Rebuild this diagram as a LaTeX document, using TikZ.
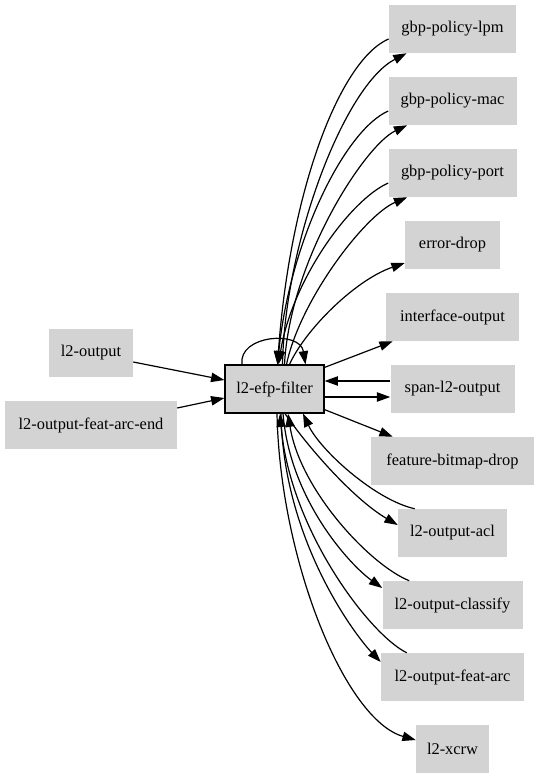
\documentclass[tikz,border=0pt]{standalone}
\usepackage{fontspec}
\setmainfont{Liberation Serif}
\usetikzlibrary{arrows.meta,calc}
\definecolor{nodegray}{HTML}{D3D3D3}
\begin{document}
\begin{tikzpicture}[x=0.75pt,y=-0.75pt,
  box/.style={fill=nodegray, draw=none, minimum height=36pt, inner sep=0pt,
    font=\fontsize{12.3}{14}\selectfont},
  mainbox/.style={box, draw=black, line width=0.9pt},
  edge/.style={-{Triangle[length=10pt,width=7pt]}, line width=0.9pt}]
\useasboundingbox (0,0) rectangle (539,779);
% nodes
\node[mainbox, minimum width=74.25pt] (efp) at (274.5,389) {l2-efp-filter};
\node[box, minimum width=63pt] (l2out) at (91,353) {l2-output};
\node[box, minimum width=129pt] (arcend) at (91,425) {l2-output-feat-arc-end};
\node[box, minimum width=95.5pt] (lpm) at (452.5,29) {gbp-policy-lpm};
\node[box, minimum width=96pt] (mac) at (452.5,101) {gbp-policy-mac};
\node[box, minimum width=96pt] (port) at (452.5,173) {gbp-policy-port};
\node[box, minimum width=71.25pt] (err) at (452.5,245) {error-drop};
\node[box, minimum width=99.75pt] (intf) at (452.5,317) {interface-output};
\node[box, minimum width=93pt] (span) at (452.5,389) {span-l2-output};
\node[box, minimum width=122.25pt] (fbd) at (452.5,461) {feature-bitmap-drop};
\node[box, minimum width=81.75pt] (acl) at (452.5,533) {l2-output-acl};
\node[box, minimum width=105pt] (cls) at (452.5,605) {l2-output-classify};
\node[box, minimum width=107.25pt] (farc) at (452.5,677) {l2-output-feat-arc};
\node[box, minimum width=54.75pt] (xcrw) at (452.5,749) {l2-xcrw};
% inputs
\draw[edge] ($(l2out.east)+(0,9)$) -- ($(efp.west)+(0,-9)$);
\draw[edge] ($(arcend.east)+(0,-17)$) -- ($(efp.west)+(0,9)$);
% self loop
\draw[edge] ($(efp.north)+(-32.5,0)$) .. controls (238,335) and (300,330) .. ($(efp.north)+(31,0)$);
% top edges
\draw[edge] ($(lpm.west)+(0,10)$) .. controls (340,60) and (290,190) .. ($(efp.north)+(3,0)$);
\draw[edge] ($(efp.north)+(8,0)$) .. controls (285,240) and (345,85) .. ($(lpm.south west)+(18,0)$);
\draw[edge] ($(mac.west)+(0,10)$) .. controls (345,130) and (290,240) .. ($(efp.north)+(3,0)$);
\draw[edge] ($(efp.north)+(10,0)$) .. controls (290,260) and (365,145) .. ($(mac.south west)+(19,0)$);
\draw[edge] ($(port.west)+(0,10)$) .. controls (350,200) and (292,280) .. ($(efp.north)+(4,0)$);
\draw[edge] ($(efp.north)+(12,0)$) .. controls (300,300) and (365,215) .. ($(port.south west)+(19,0)$);
\draw[edge] ($(efp.north)+(15,0)$) .. controls (305,330) and (355,280) .. ($(err.west)+(0,18)$);
% right side
\draw[edge] ($(efp.north east)+(0,3)$) -- ($(intf.south west)+(7,0)$);
\draw[edge] ($(span.west)+(0,-8)$) -- ($(efp.east)+(0,-8)$);
\draw[edge] ($(efp.east)+(0,8)$) -- ($(span.west)+(0,8)$);
\draw[edge] ($(efp.south east)+(0,-4)$) -- ($(fbd.north west)+(22,0)$);
% bottom edges
\draw[edge] ($(acl.north west)+(17,0)$) .. controls (375,500) and (320,450) .. ($(efp.south)+(28.5,0)$);
\draw[edge] ($(efp.south)+(10.5,0)$) .. controls (310,450) and (355,500) .. ($(acl.west)+(0,-8)$);
\draw[edge] ($(cls.north west)+(27,0)$) .. controls (370,565) and (300,490) .. ($(efp.south)+(13.5,0)$);
\draw[edge] ($(efp.south)+(8.5,0)$) .. controls (290,500) and (350,565) .. ($(cls.west)+(0,-17)$);
\draw[edge] ($(farc.north west)+(26,0)$) .. controls (370,635) and (290,530) .. ($(efp.south)+(5.5,0)$);
\draw[edge] ($(efp.south)+(6.5,0)$) .. controls (283,540) and (355,635) .. ($(farc.west)+(0,-15)$);
\draw[edge] ($(efp.south)+(2.5,0)$) .. controls (280,560) and (345,720) .. ($(xcrw.west)+(0,-9)$);
\end{tikzpicture}
\end{document}
